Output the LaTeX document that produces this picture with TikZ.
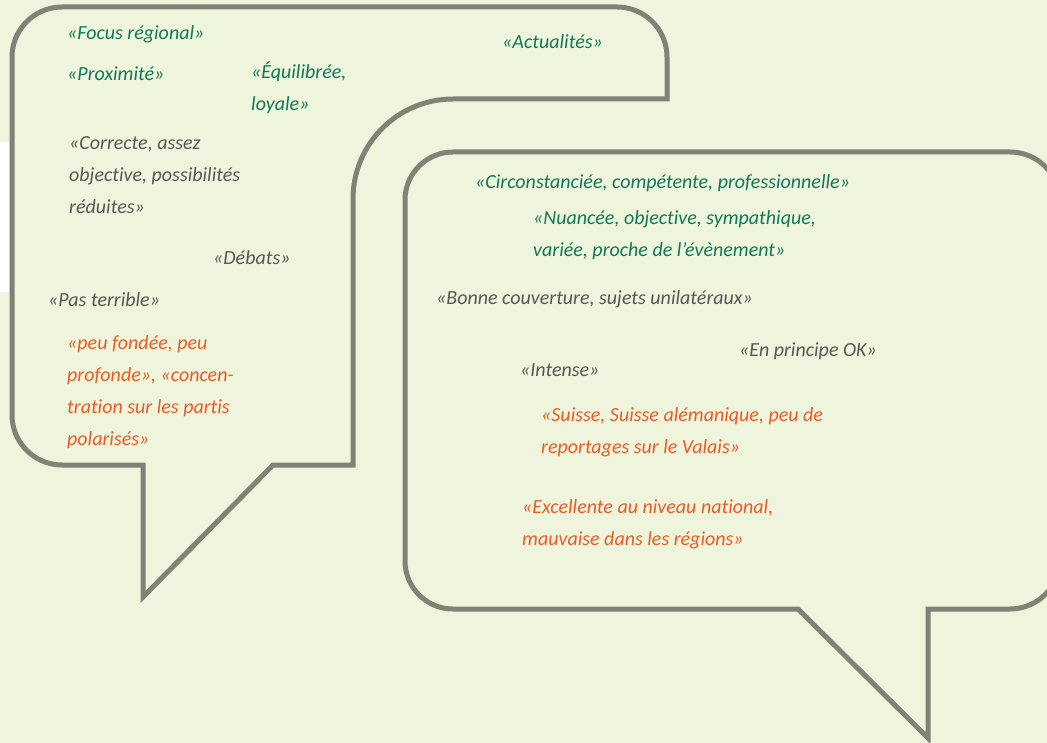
\documentclass[tikz,border=0pt]{standalone}
\usepackage{fontspec}
\setmainfont{Carlito}[Ligatures=NoCommon]
\definecolor{bg}{RGB}{239,244,220}
\definecolor{rim}{RGB}{128,130,118}
\definecolor{txtgreen}{RGB}{16,122,88}
\definecolor{txtgrey}{RGB}{88,88,88}
\definecolor{txtorange}{RGB}{234,92,40}
\begin{document}
\begin{tikzpicture}[x=1pt,y=-1pt,
  bubble/.style={draw=rim,line width=5pt,line join=miter},
  say/.style={anchor=west,inner sep=0pt,align=left,
    font=\fontsize{20}{32}\selectfont\itshape},
  good/.style={say,text=txtgreen},
  meh/.style={say,text=txtgrey},
  bad/.style={say,text=txtorange}]
  % canvas
  \fill[bg] (0,0) rectangle (1047,743);
  \useasboundingbox (0,0) rectangle (1047,743);
  \fill[white] (0,142) rectangle (9,292);
  \clip (0,0) rectangle (1047,743);
  % left bubble
  \coordinate (LT) at (273,465);   % tail start
  \coordinate (LP) at (143,597);   % tail tip
  \draw[bubble] (12,415) -- (12,57) arc[start angle=180,end angle=90,radius=50pt]
    -- (617,7) arc[start angle=90,end angle=0,radius=50pt]
    -- (667,99) -- (453,99) arc[start angle=90,end angle=180,radius=100pt]
    -- (353,465) -- (LT) -- (LP) -- (143,465)
    -- (62,465) arc[start angle=270,end angle=180,radius=50pt] -- cycle;
  % right bubble
  \coordinate (RT) at (798,609);   % tail start
  \coordinate (RP) at (928,738);   % tail tip
  \draw[bubble] (405,561) -- (405,200) arc[start angle=180,end angle=90,radius=48pt]
    -- (1010,152) arc[start angle=90,end angle=0,radius=50pt]
    -- (1060,559) arc[start angle=0,end angle=-90,radius=50pt]
    -- (928,609) -- (RP) -- (RT)
    -- (453,609) arc[start angle=270,end angle=180,radius=48pt] -- cycle;
  % left texts
  \node[good] (focus) at (67,34) {«Focus régional»};
  \node[good] (proxi) at (67,74) {«Proximité»};
  \node[good] (equil) at (251,87.5) {«Équilibrée,\\loyale»};
  \node[good] (actu) at (502,42) {«Actualités»};
  \node[meh] (correcte) at (69,175) {«Correcte, assez\\objective, possibilités\\réduites»};
  \node[meh] (debats) at (213,258) {«Débats»};
  \node[meh] (pasterr) at (48,300) {«Pas terrible»};
  \node[bad] (peufond) at (67,392) {«peu fondée, peu\\profonde», «concen-\\tration sur les partis\\polarisés»};
  % right texts
  \node[good] (circ) at (475,183) {«Circonstanciée, compétente, professionnelle»};
  \node[good] (nuance) at (533,235.5) {«Nuancée, objective, sympathique,\\variée, proche de l’évènement»};
  \node[meh] (bonne) at (436,299) {«Bonne couverture, sujets unilatéraux»};
  \node[meh] (princ) at (739,351) {«En principe OK»};
  \node[meh] (intense) at (520,370) {«Intense»};
  \node[bad] (suisse) at (541,432.5) {«Suisse, Suisse alémanique, peu de\\reportages sur le Valais»};
  \node[bad] (excel) at (522,524) {«Excellente au niveau national,\\mauvaise dans les régions»};
\end{tikzpicture}
\end{document}
